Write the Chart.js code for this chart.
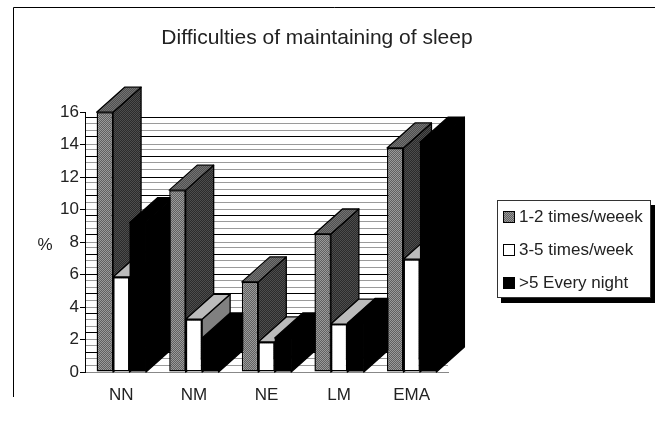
<!DOCTYPE html>
<html lang="en">
<head>
<meta charset="UTF-8">
<title>Difficulties of maintaining of sleep</title>
<script src="https://cdn.jsdelivr.net/npm/chart.js"></script>
<style>
    html, body { margin: 0; padding: 0; background: #fff; overflow: hidden; }
    canvas { display: block; }
</style>
</head>
<body>
<canvas id="sleepChart" width="655" height="427"></canvas>
<script>
const chartTitle = 'Difficulties of maintaining of sleep';
const yUnit = '%';
const categories = ['NN', 'NM', 'NE', 'LM', 'EMA'];
const seriesNames = ['1-2 times/weeek', '3-5 times/week', '>5 Every night'];
const oneToTwo = [16, 11.2, 5.55, 8.5, 13.8];
const threeToFive = [5.85, 3.25, 1.85, 2.95, 6.95];
const everyNight = [9.2, 2.1, 2.1, 3, 14.15];

const FONT = '"Liberation Sans", Arial, sans-serif';
const DEPTH_X = 28;
const DEPTH_Y = -25;
const WALL_STEP = 0.4025; // spacing of the back wall lines, a bit over 0.4
const wallLines = [];
for (let k = 0; k < 40; k++) wallLines.push(k);

// two tone dither like the old print
function dither(a, b) {
    const c = document.createElement('canvas');
    c.width = c.height = 2;
    const g = c.getContext('2d');
    g.fillStyle = a;
    g.fillRect(0, 0, 2, 2);
    g.fillStyle = b;
    g.fillRect(0, 0, 1, 1);
    g.fillRect(1, 1, 1, 1);
    return g.createPattern(c, 'repeat');
}

const ctx = document.getElementById('sleepChart').getContext('2d');

const solid3d = {
    id: 'solid3d',
    afterLayout(chart) {
        // title is not centred on the plot
        chart.titleBlock.left = 0;
        chart.titleBlock.right = 634;
    },
    beforeDraw(chart) {
        // page frame, only top and left survive in the scan
        const c = chart.ctx;
        c.save();
        c.strokeStyle = '#000';
        c.lineWidth = 1;
        c.beginPath();
        c.moveTo(13.5, 397);
        c.lineTo(13.5, 7.5);
        c.lineTo(655, 7.5);
        c.stroke();
        c.restore();
    },
    beforeDatasetsDraw(chart) {
        const c = chart.ctx;
        const base = chart.scales.y.getPixelForValue(0);
        categories.forEach((_, i) => {
            chart.data.datasets.forEach((ds, d) => {
                const bar = chart.getDatasetMeta(d).data[i];
                const hw = bar.width / 2;
                const x1 = bar.x - hw, x2 = bar.x + hw, y = bar.y;
                c.save();
                c.lineWidth = 1.3;
                c.strokeStyle = '#000';
                c.lineJoin = 'round';
                c.fillStyle = ds.sideColor;
                c.beginPath();
                c.moveTo(x2, y);
                c.lineTo(x2 + DEPTH_X, y + DEPTH_Y);
                c.lineTo(x2 + DEPTH_X, base + DEPTH_Y);
                c.lineTo(x2, base);
                c.closePath();
                c.fill();
                c.stroke();
                c.fillStyle = ds.topColor;
                c.beginPath();
                c.moveTo(x1, y);
                c.lineTo(x1 + DEPTH_X, y + DEPTH_Y);
                c.lineTo(x2 + DEPTH_X, y + DEPTH_Y);
                c.lineTo(x2, y);
                c.closePath();
                c.fill();
                c.stroke();
                c.restore();
                bar.draw(c);
            });
        });
        return false;
    },
    afterDraw(chart) {
        const c = chart.ctx;
        c.save();
        // % label sits horizontally, the scale title would rotate it
        c.fillStyle = '#222';
        c.font = '17px ' + FONT;
        c.textAlign = 'center';
        c.textBaseline = 'middle';
        c.fillText(yUnit, 45, 245);

        // legend box with drop shadow
        c.fillStyle = '#000';
        c.fillRect(501, 205, 154, 98);
        c.fillStyle = '#fff';
        c.fillRect(498, 200, 153, 97);
        c.strokeStyle = '#333';
        c.lineWidth = 1;
        c.strokeRect(497.5, 200.5, 153, 97);
        c.textAlign = 'left';
        chart.data.datasets.forEach((ds, d) => {
            const rowY = 217 + d * 33;
            c.fillStyle = ds.backgroundColor;
            c.fillRect(504, rowY - 5, 10, 10);
            c.strokeStyle = '#000';
            c.strokeRect(503.5, rowY - 5.5, 11, 11);
            c.fillStyle = '#222';
            c.fillText(ds.label, 519, rowY);
        });
        c.restore();
    }
};

const chart = new Chart(ctx, {
    type: 'bar',
    data: {
        labels: categories,
        datasets: [
            {
                label: seriesNames[0],
                data: oneToTwo,
                backgroundColor: dither('#606060', '#9a9a9a'),
                sideColor: dither('#2b2b2b', '#4d4d4d'),
                topColor: dither('#505050', '#727272'),
                borderColor: '#000',
                borderWidth: 1.5,
                borderSkipped: false
            },
            {
                label: seriesNames[1],
                data: threeToFive,
                backgroundColor: '#ffffff',
                sideColor: '#808080',
                topColor: '#bbbbbb',
                borderColor: '#000',
                borderWidth: 1.5,
                borderSkipped: false
            },
            {
                label: seriesNames[2],
                data: everyNight,
                backgroundColor: '#000000',
                sideColor: '#000000',
                topColor: '#000000',
                borderWidth: 0
            }
        ]
    },
    options: {
        responsive: false,
        animation: false,
        categoryPercentage: 0.68,
        barPercentage: 1,
        layout: { padding: { left: 0, right: 207, top: 0, bottom: 0 } },
        plugins: {
            legend: { display: false },
            tooltip: { enabled: false },
            title: {
                display: true,
                text: chartTitle,
                color: '#222',
                font: { family: FONT, size: 21, weight: 'normal' },
                padding: { top: 26, bottom: 61 }
            }
        },
        scales: {
            x: {
                afterFit: s => { s.height = 55; },
                grid: { display: false },
                border: { color: '#888' },
                ticks: {
                    color: '#222',
                    font: { family: FONT, size: 17 },
                    padding: 5,
                    maxRotation: 0
                }
            },
            y: {
                min: 0,
                max: 16,
                afterFit: s => { s.width = 85; },
                afterBuildTicks: s => {
                    const ticks = [];
                    for (let v = 0; v <= 16; v += 2) ticks.push({ value: v, major: true });
                    wallLines.forEach(k => { if (k % 5) ticks.push({ value: k * WALL_STEP }); });
                    s.ticks = ticks.sort((a, b) => a.value - b.value);
                },
                border: { color: '#000' },
                grid: {
                    tickLength: 5,
                    tickColor: c => c.tick.major ? '#000' : 'transparent',
                    color: c => {
                        if (c.tick.value === 16) return 'transparent';
                        if (c.tick.value === 0) return '#888';
                        const k = Math.round(c.tick.value / WALL_STEP);
                        return k % 3 === 0 ? '#000' : '#9a9a9a';
                    }
                },
                ticks: {
                    autoSkip: false,
                    color: '#222',
                    padding: 1,
                    font: { family: FONT, size: 17 },
                    callback: (v, i, all) => all[i].major ? v : ''
                }
            }
        }
    },
    plugins: [solid3d]
});
</script>
</body>
</html>
